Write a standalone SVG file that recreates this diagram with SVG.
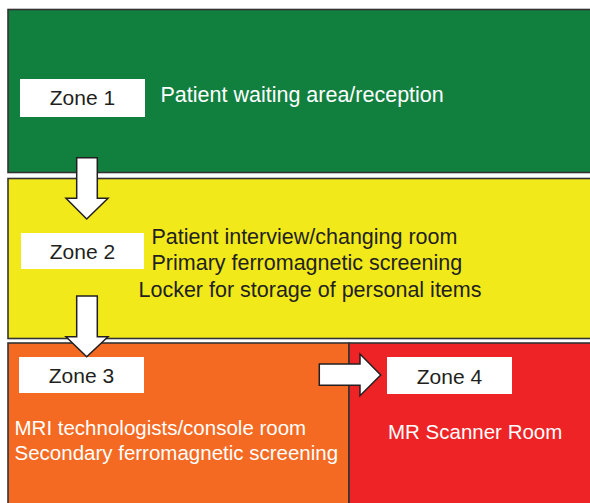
<svg xmlns="http://www.w3.org/2000/svg" width="590" height="503" viewBox="0 0 590 503">
  <style>
    .zone { stroke: #333333; stroke-width: 1.6; }
    .tag { fill: #ffffff; }
    .tag-text { font-family: "Liberation Sans", Arial, sans-serif; font-size: 21px; fill: #231f20; text-anchor: middle; }
    .body { font-family: "Liberation Sans", Arial, sans-serif; font-size: 21.5px; }
    .small { font-size: 20.5px; }
    .light { fill: #ffffff; }
    .dark { fill: #231f20; }
    .arrow { fill: #ffffff; stroke: #231f20; stroke-width: 1.5; stroke-linejoin: miter; }
  </style>
  <rect width="590" height="503" fill="#ffffff"/>

  <g id="zone1">
    <rect class="zone" x="8" y="9.5" width="600" height="163" fill="#11803f"/>
    <rect class="tag" x="20" y="79" width="125" height="38"/>
    <text class="tag-text" x="82.5" y="105">Zone 1</text>
    <text class="body light" x="160.5" y="102">Patient waiting area/reception</text>
  </g>

  <g id="zone2">
    <rect class="zone" x="8" y="178.5" width="600" height="160" fill="#f1e91a"/>
    <rect class="tag" x="21" y="233" width="123" height="36"/>
    <text class="tag-text" x="82.5" y="258.5">Zone 2</text>
    <text class="body dark" x="151.5" y="243.5">Patient interview/changing room</text>
    <text class="body dark" x="151.5" y="270">Primary ferromagnetic screening</text>
    <text class="body dark" x="138.5" y="297">Locker for storage of personal items</text>
  </g>

  <g id="zone3">
    <rect class="zone" x="8" y="343" width="341" height="180" fill="#f46a22"/>
    <rect class="tag" x="19" y="357" width="125" height="36"/>
    <text class="tag-text" x="81.5" y="382.5">Zone 3</text>
    <text class="body small light" x="14.5" y="435">MRI technologists/console room</text>
    <text class="body small light" x="14.5" y="460">Secondary ferromagnetic screening</text>
  </g>

  <g id="zone4">
    <rect class="zone" x="349" y="343" width="260" height="180" fill="#ee2326"/>
    <rect class="tag" x="387" y="357" width="125" height="37"/>
    <text class="tag-text" x="449.5" y="383.5">Zone 4</text>
    <text class="body small light" x="388" y="438.5">MR Scanner Room</text>
  </g>

  <g id="connectors">
    <path class="arrow" d="M76.7,157.7 H97.3 V198.3 H108 L86.7,219 L66,198.3 H76.7 Z"/>
    <path class="arrow" d="M76.7,296 H97.3 V336.7 H108 L86.7,356.7 L66,336.7 H76.7 Z"/>
    <path class="arrow" d="M319.3,364 H360 V354 L380.7,375 L360,395.7 V385.3 H319.3 Z"/>
  </g>
</svg>
